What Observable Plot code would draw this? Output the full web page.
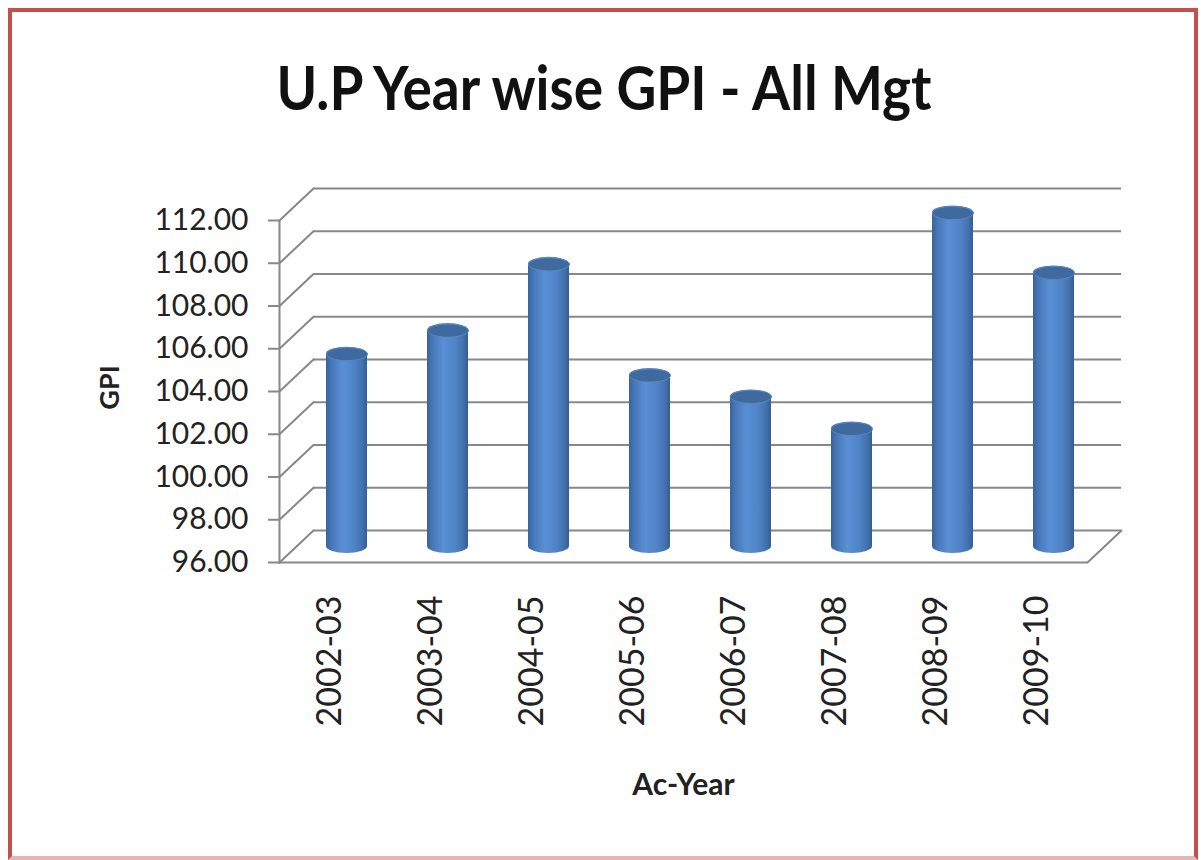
<!DOCTYPE html>
<html>
<head>
<meta charset="utf-8">
<script src="https://cdn.jsdelivr.net/npm/d3@7"></script>
<script src="https://cdn.jsdelivr.net/npm/@observablehq/plot@0.6"></script>
<style>
  html, body { margin: 0; padding: 0; background: #ffffff; }
  #wrap { position: relative; width: 1201px; height: 860px; overflow: hidden; background: #fff; }
  #border { position: absolute; left: 8px; top: 8px; width: 1190px; height: 852px; box-sizing: border-box;
            border: 4px solid #c4504e; border-bottom-color: #e6b5b4; pointer-events: none; }
  #title { height: 150px; box-sizing: border-box; padding-top: 62px; padding-left: 7px; text-align: center;
           font-family: Lato, "Open Sans", sans-serif; font-weight: 700; font-size: 55px; line-height: 1; color: #111; }
  #title span { display: inline-block; transform: scaleY(1.1); transform-origin: 50% 90%; }
  #chart svg { display: block; }
</style>
</head>
<body>
<div id="wrap">
  <div id="title"><span>U.P Year wise GPI - All Mgt</span></div>
  <div id="chart"></div>
  <div id="border"></div>
</div>
<script>
// ---- data ----
const years = ["2002-03", "2003-04", "2004-05", "2005-06", "2006-07", "2007-08", "2008-09", "2009-10"];
const gpi = [105.0, 106.1, 109.2, 104.0, 103.0, 101.5, 111.6, 108.8];
const yTicks = [96, 98, 100, 102, 104, 106, 108, 110, 112];
const yDomain = [96, 112];
const xLabel = "Ac-Year";
const yLabel = "GPI";

// ---- 3D depth styling (pixels) ----
const depthDx = 34, depthDy = -32;
const depthLen = Math.hypot(depthDx, depthDy);
const depthAngle = Math.atan2(depthDx, -depthDy) * 180 / Math.PI;
const gridColor = "#888888";

const data = years.map((year, i) => ({year, gpi: gpi[i]}));

const lineShape = {
  draw(context, l) { context.moveTo(0, 0); context.lineTo(0, -l); }
};
const ellipseSymbol = {
  draw(context, size) {
    const rx = Math.sqrt(size / Math.PI), ry = rx * 0.32, k = 0.5523;
    context.moveTo(-rx, 0);
    context.bezierCurveTo(-rx, -ry * k, -rx * k, -ry, 0, -ry);
    context.bezierCurveTo(rx * k, -ry, rx, -ry * k, rx, 0);
    context.bezierCurveTo(rx, ry * k, rx * k, ry, 0, ry);
    context.bezierCurveTo(-rx * k, ry, -rx, ry * k, -rx, 0);
    context.closePath();
  }
};

const defsMark = () => {
  const defs = d3.create("svg:defs");
  const g = defs.append("linearGradient").attr("id", "cyl").attr("x1", 0).attr("x2", 1).attr("y1", 0).attr("y2", 0);
  [[0, "#38639b"], [0.12, "#4676b6"], [0.4, "#5a8fd4"], [0.7, "#4f83c6"], [0.9, "#416fab"], [1, "#345d92"]]
    .forEach(([o, c]) => g.append("stop").attr("offset", o).attr("stop-color", c));
  return defs.node();
};

const plot = Plot.plot({
  width: 1201,
  height: 710,
  marginLeft: 279,
  marginRight: 114,
  marginTop: 70,
  marginBottom: 298,
  style: {fontFamily: "Lato, 'Open Sans', sans-serif", color: "#222", background: "transparent"},
  x: {type: "band", domain: years, padding: 0, label: null},
  y: {domain: yDomain, label: null},
  marks: [
    defsMark,
    // back wall gridlines
    Plot.ruleY(yTicks, {dx: depthDx, dy: depthDy, stroke: gridColor, strokeWidth: 2}),
    // left wall diagonals
    Plot.vector(yTicks, {y: d => d, frameAnchor: "left", length: depthLen, rotate: depthAngle, anchor: "start",
      shape: lineShape, stroke: gridColor, strokeWidth: 2}),
    // floor right diagonal
    Plot.vector([yDomain[0]], {y: d => d, frameAnchor: "right", length: depthLen, rotate: depthAngle, anchor: "start",
      shape: lineShape, stroke: gridColor, strokeWidth: 2}),
    // floor front edge
    Plot.ruleY([yDomain[0]], {stroke: gridColor, strokeWidth: 2}),
    // front vertical axis line
    Plot.frame({anchor: "left", stroke: gridColor, strokeWidth: 2}),
    // cylinders
    Plot.barY(data, {x: "year", y1: yDomain[0], y2: "gpi", fill: "url(#cyl)",
      insetLeft: 30, insetRight: 30, insetTop: -7, insetBottom: -7, rx: 20.5, ry: 7,
      dx: depthDx / 2, dy: depthDy / 2}),
    Plot.dot(data, {x: "year", y: "gpi", symbol: ellipseSymbol, r: 20.5, fill: "#3e6aa0", stroke: "#5b86bf", strokeWidth: 1,
      dx: depthDx / 2, dy: depthDy / 2}),
    // axes
    Plot.axisY(yTicks, {tickSize: 11, tickPadding: 20, tickFormat: d3.format(".2f"), fontSize: 30,
      stroke: gridColor, strokeWidth: 2, fill: "#222", label: null}),
    Plot.axisX({tickSize: 0, tickPadding: 33, tickRotate: -90, fontSize: 34, fill: "#222", label: null}),
    Plot.text([xLabel], {frameAnchor: "bottom", lineAnchor: "middle", dy: 223, fontSize: 30, fontWeight: "bold", fill: "#222"}),
    Plot.text([yLabel], {frameAnchor: "left", textAnchor: "middle", lineAnchor: "middle", dx: -169, dy: -4, rotate: -90,
      fontSize: 27, fontWeight: "bold", fill: "#222"})
  ]
});
document.getElementById("chart").appendChild(plot);
</script>
</body>
</html>
